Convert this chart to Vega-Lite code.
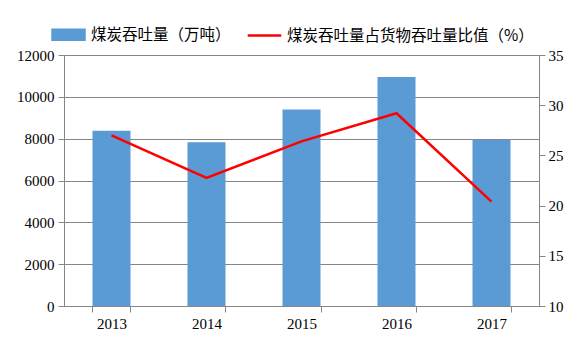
{
  "$schema": "https://vega.github.io/schema/vega-lite/v6.json",
  "width": 475,
  "height": 251,
  "autosize": {"type": "none"},
  "padding": {"left": 64, "top": 55, "right": 43, "bottom": 45},
  "background": "white",
  "config": {
    "view": {"stroke": "#868686", "strokeWidth": 1},
    "axis": {
      "labelFont": "Liberation Serif",
      "labelFontSize": 15,
      "labelColor": "#000000",
      "domainColor": "#868686",
      "tickColor": "#868686",
      "gridColor": "#868686",
      "gridOpacity": 1,
      "tickSize": 6,
      "title": null
    }
  },
  "data": {
    "values": [
      {"year": "2013", "tons": 8380, "ratio": 27.0},
      {"year": "2014", "tons": 7830, "ratio": 22.75},
      {"year": "2015", "tons": 9400, "ratio": 26.4},
      {"year": "2016", "tons": 10950, "ratio": 29.2},
      {"year": "2017", "tons": 7950, "ratio": 20.4}
    ]
  },
  "encoding": {
    "x": {
      "field": "year",
      "type": "ordinal",
      "scale": {"paddingInner": 0.6, "paddingOuter": 0.3},
      "axis": {"labelAngle": 0, "tickBand": "extent", "labelPadding": 4, "grid": false, "labelFont": "Liberation Serif", "labelFontSize": 15}
    }
  },
  "layer": [
    {
      "mark": {"type": "bar"},
      "encoding": {
        "y": {
          "field": "tons",
          "type": "quantitative",
          "scale": {"domain": [0, 12000], "nice": false},
          "axis": {
            "values": [0, 2000, 4000, 6000, 8000, 10000, 12000],
            "grid": true,
            "labelPadding": 4,
            "format": "d",
            "labelFont": "Liberation Serif",
            "labelFontSize": 15,
            "encode": {"labels": {"update": {"font": {"value": "Liberation Serif"}}}}
          }
        },
        "color": {
          "datum": "煤炭吞吐量（万吨）",
          "type": "nominal",
          "scale": {
            "domain": ["煤炭吞吐量（万吨）", "煤炭吞吐量占货物吞吐量比值（%）"],
            "range": ["#5B9BD5", "#FF0000"]
          },
          "legend": {
            "orient": "none",
            "legendX": -13,
            "legendY": -38,
            "direction": "horizontal",
            "title": null,
            "padding": 0,
            "labelFont": "Noto Sans CJK SC",
            "labelFontSize": 15.5,
            "labelColor": "#000000",
            "labelBaseline": "middle",
            "labelOffset": 5,
            "columnPadding": 11,
            "symbolSize": 1024,
            "labelLimit": 400,
            "encode": {
              "symbols": {
                "update": {
                  "shape": {"signal": "datum.value === '煤炭吞吐量（万吨）' ? 'M-1,-0.3125H1V0.3125H-1Z' : 'M-1.05,0H1.05'"},
                  "fill": {"signal": "datum.value === '煤炭吞吐量（万吨）' ? '#5B9BD5' : 'transparent'"},
                  "stroke": {"signal": "datum.value === '煤炭吞吐量（万吨）' ? 'transparent' : '#FF0000'"},
                  "strokeWidth": {"value": 2.5},
                  "opacity": {"value": 1},
                  "fillOpacity": {"value": 1}
                }
              }
            }
          }
        }
      }
    },
    {
      "mark": {"type": "line", "strokeWidth": 2.5},
      "encoding": {
        "y": {
          "field": "ratio",
          "type": "quantitative",
          "scale": {"domain": [10, 35], "nice": false, "zero": false},
          "axis": {
            "orient": "right",
            "values": [10, 15, 20, 25, 30, 35],
            "grid": false,
            "labelPadding": 3,
            "labelFont": "Liberation Serif",
            "labelFontSize": 15,
            "encode": {"labels": {"update": {"font": {"value": "Liberation Serif"}}}}
          }
        },
        "color": {"datum": "煤炭吞吐量占货物吞吐量比值（%）", "type": "nominal"}
      }
    }
  ],
  "resolve": {"scale": {"y": "independent"}}
}
